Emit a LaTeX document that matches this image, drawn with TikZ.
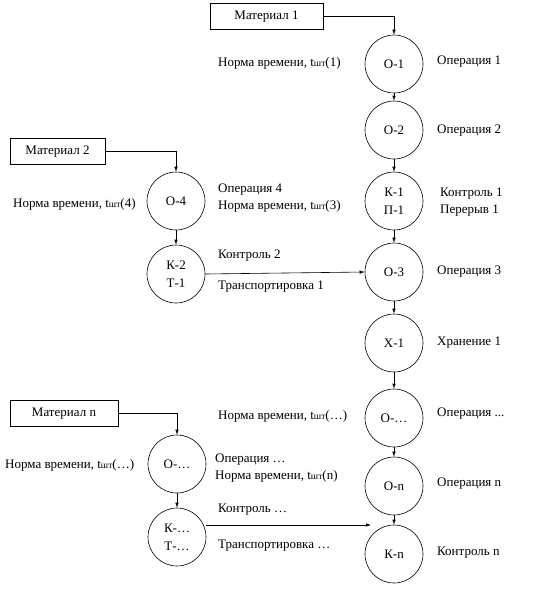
\documentclass[tikz,border=0pt]{standalone}
\usepackage{fontspec}
\setmainfont{Liberation Serif}
\usetikzlibrary{arrows.meta}
\newcommand{\tsht}{t\raisebox{-0.3pt}{\fontsize{9.5}{10}\selectfont шт}}
\tikzset{
  op/.style={circle,draw,line width=0.6pt,minimum size=58pt,inner sep=0pt,align=center,font=\fontsize{13}{18}\selectfont},
  mat/.style={draw,line width=0.6pt,minimum height=26pt,inner sep=0pt,font=\fontsize{13}{14}\selectfont},
  lbl/.style={anchor=west,inner sep=0pt,font=\fontsize{13}{17}\selectfont,align=left},
  flow/.style={line width=0.6pt,-{Latex[length=5pt,width=3.5pt]}},
}
\begin{document}
\begin{tikzpicture}[x=1pt,y=-1pt]
\useasboundingbox (0,0) rectangle (554,611);
% right column
\node[op] (o1) at (394,64) {О-1};
\node[op] (o2) at (394,130) {О-2};
\node[op] (k1) at (394,201) {К-1\\П-1};
\node[op] (o3) at (394,272) {О-3};
\node[op] (x1) at (394,343) {Х-1};
\node[op] (od) at (394,418) {О-…};
\node[op] (on) at (394,486) {О-n};
\node[op] (kn) at (394,554) {К-n};
% left circles
\node[op] (o4) at (176,201) {О-4};
\node[op] (k2) at (176,274) {К-2\\Т-1};
\node[op] (ol) at (177,464) {О-…};
\node[op] (kl) at (177,537) {К-…\\Т-…};
% materials
\node[mat,minimum width=113pt] (m1) at (266.5,16.5) {Материал 1};
\node[mat,minimum width=95pt] (m2) at (57.5,151.5) {Материал 2};
\node[mat,minimum width=108pt] (mn) at (64,413.5) {Материал n};
% connectors
\draw[flow] (m1.east) -| (o1.north);
\draw[flow] (m2.east) -| (o4.north);
\draw[flow] (mn.east) -| (ol.north);
\draw[flow] (o1) -- (o2);
\draw[flow] (o2) -- (k1);
\draw[flow] (k1) -- (o3);
\draw[flow] (o3) -- (x1);
\draw[flow] (x1) -- (od);
\draw[flow] (od) -- (on);
\draw[flow] (on) -- (kn);
\draw[flow] (o4) -- (k2);
\draw[flow] (ol) -- (kl);
\draw[flow] (k2.east) -- (o3.west);
\coordinate (knin) at (371,525);
\draw[flow] (kl.east |- 0,525) -- (knin);
% labels right
\node[lbl] (l1) at (437,62) {Операция 1};
\node[lbl] (l2) at (437,131) {Операция 2};
\node[lbl] (l3) at (440,202) {Контроль 1\\Перерыв 1};
\node[lbl] (l4) at (437,272) {Операция 3};
\node[lbl] (l5) at (437,343) {Хранение 1};
\node[lbl] (l6) at (437,414) {Операция ...};
\node[lbl] (l7) at (437,484) {Операция n};
\node[lbl] (l8) at (437,553) {Контроль n};
% labels middle
\node[lbl] (n1) at (218,63) {Норма времени, \tsht(1)};
\node[lbl] (n2) at (218,198) {Операция 4\\Норма времени, \tsht(3)};
\node[lbl] (n3) at (218,256) {Контроль 2};
\node[lbl] (n4) at (218,287) {Транспортировка 1};
\node[lbl] (n5) at (218,416) {Норма времени, \tsht(…)};
\node[lbl] (n6) at (215,468) {Операция …\\Норма времени, \tsht(n)};
\node[lbl] (n7) at (218,510) {Контроль …};
\node[lbl] (n8) at (218,546) {Транспортировка …};
% labels left
\node[lbl] (n9) at (13,204) {Норма времени, \tsht(4)};
\node[lbl] (n10) at (5,465) {Норма времени, \tsht(…)};
\end{tikzpicture}
\end{document}
